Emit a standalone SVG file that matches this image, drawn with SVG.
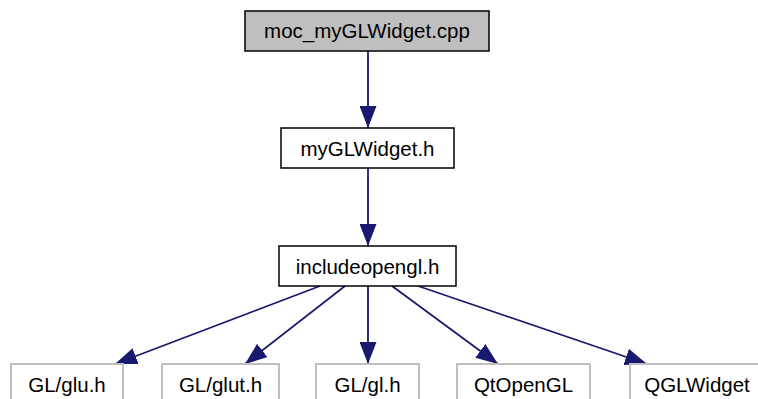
<svg xmlns="http://www.w3.org/2000/svg" width="758" height="399" viewBox="0 0 758 399">
<defs>
<style>
.n rect{fill:#fff;stroke:#000;stroke-width:1.5}
.n.top rect{fill:#bfbfbf}
.n.ext rect{stroke:#bfbfbf;stroke-width:2}
text{font-family:"Liberation Sans",Arial,sans-serif;font-size:20.5px;fill:#000;text-anchor:middle}
.e line{stroke:#191970;stroke-width:1.8}
</style>
<marker id="ah" viewBox="0 0 22 17" refX="22" refY="8.5" markerWidth="22" markerHeight="17" markerUnits="userSpaceOnUse" orient="auto">
<path d="M0,0 L22,8.5 L0,17 Z" fill="#191970"/>
</marker>
</defs>
<rect width="758" height="399" fill="#fff"/>
<g id="edges" class="e">
<line x1="368" y1="51" x2="368" y2="128" marker-end="url(#ah)"/>
<line x1="368" y1="168" x2="368" y2="246" marker-end="url(#ah)"/>
<line x1="320" y1="286" x2="115" y2="364" marker-end="url(#ah)"/>
<line x1="345" y1="286" x2="245" y2="364" marker-end="url(#ah)"/>
<line x1="368" y1="286" x2="368" y2="364" marker-end="url(#ah)"/>
<line x1="392" y1="286" x2="498" y2="364" marker-end="url(#ah)"/>
<line x1="418" y1="286" x2="647" y2="364" marker-end="url(#ah)"/>
</g>
<g id="moc_myGLWidget_cpp" class="n top"><rect x="245" y="11" width="244" height="40"/><text x="367" y="38">moc_myGLWidget.cpp</text></g>
<g id="myGLWidget_h" class="n"><rect x="281" y="128" width="173" height="40"/><text x="367.5" y="155.5">myGLWidget.h</text></g>
<g id="includeopengl_h" class="n"><rect x="279" y="246" width="177" height="40"/><text x="367.5" y="273.5">includeopengl.h</text></g>
<g id="GL_glu_h" class="n ext"><rect x="11" y="364" width="112" height="40"/><text x="67" y="391.5">GL/glu.h</text></g>
<g id="GL_glut_h" class="n ext"><rect x="162" y="364" width="117" height="40"/><text x="220.5" y="391.5">GL/glut.h</text></g>
<g id="GL_gl_h" class="n ext"><rect x="316" y="364" width="103" height="40"/><text x="367.5" y="391.5">GL/gl.h</text></g>
<g id="QtOpenGL" class="n ext"><rect x="457" y="364" width="133" height="40"/><text x="523.5" y="391.5">QtOpenGL</text></g>
<g id="QGLWidget" class="n ext"><rect x="630" y="364" width="134" height="40"/><text x="697" y="391.5">QGLWidget</text></g>
</svg>
